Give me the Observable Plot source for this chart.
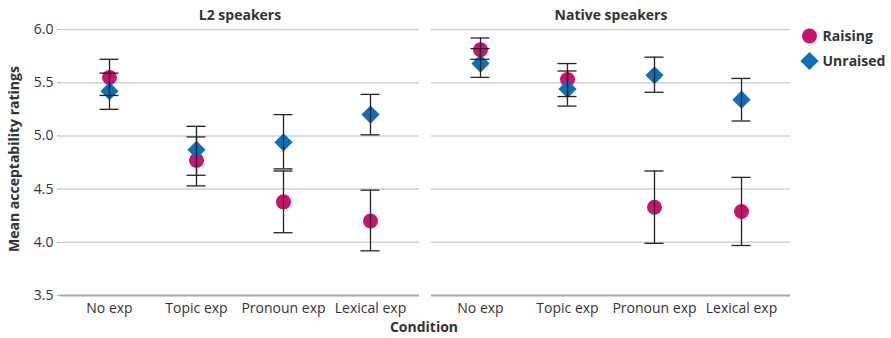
<!DOCTYPE html>
<html>
<head>
<meta charset="utf-8">
<script src="https://cdn.jsdelivr.net/npm/d3@7"></script>
<script src="https://cdn.jsdelivr.net/npm/@observablehq/plot@0.6"></script>
<style>
  html, body { margin: 0; padding: 0; background: #fff; }
  #chart { width: 891px; height: 338px; position: relative; }
</style>
</head>
<body>
<div id="chart"></div>
<script>
// ---- data ----
const groups = ["L2 speakers", "Native speakers"];
const conditions = ["No exp", "Topic exp", "Pronoun exp", "Lexical exp"];
const types = ["Raising", "Unraised"];
const yTicks = [3.5, 4.0, 4.5, 5.0, 5.5, 6.0];

const l2RaisingMean = [5.55, 4.77, 4.38, 4.20];
const l2RaisingLo   = [5.38, 4.53, 4.09, 3.92];
const l2RaisingHi   = [5.72, 4.99, 4.67, 4.49];

const l2UnraisedMean = [5.42, 4.87, 4.94, 5.20];
const l2UnraisedLo   = [5.25, 4.63, 4.69, 5.01];
const l2UnraisedHi   = [5.59, 5.09, 5.20, 5.39];

const nativeRaisingMean = [5.81, 5.53, 4.33, 4.29];
const nativeRaisingLo   = [5.72, 5.37, 3.99, 3.97];
const nativeRaisingHi   = [5.92, 5.68, 4.67, 4.61];

const nativeUnraisedMean = [5.68, 5.44, 5.57, 5.34];
const nativeUnraisedLo   = [5.55, 5.28, 5.41, 5.14];
const nativeUnraisedHi   = [5.82, 5.61, 5.74, 5.54];

const colors = ["#c8136f", "#106fb4"];

// ---- build table ----
const series = [
  [groups[0], types[0], l2RaisingMean, l2RaisingLo, l2RaisingHi],
  [groups[0], types[1], l2UnraisedMean, l2UnraisedLo, l2UnraisedHi],
  [groups[1], types[0], nativeRaisingMean, nativeRaisingLo, nativeRaisingHi],
  [groups[1], types[1], nativeUnraisedMean, nativeUnraisedLo, nativeUnraisedHi]
];
const data = [];
for (const [g, t, m, lo, hi] of series) {
  conditions.forEach((c, i) => data.push({group: g, type: t, condition: c, mean: m[i], lo: lo[i], hi: hi[i]}));
}
const raising = data.filter(d => d.type === types[0]);
const unraised = data.filter(d => d.type === types[1]);

const font = "'Open Sans', 'DejaVu Sans', sans-serif";
const barStyle = {stroke: "#222", strokeWidth: 1.3};

const chart = Plot.plot({
  width: 891,
  height: 338,
  marginLeft: 60,
  marginRight: 101,
  marginTop: 29,
  marginBottom: 43,
  style: {fontFamily: font, color: "#333", background: "#fff", overflow: "visible"},
  fx: {domain: groups, paddingInner: 0.033, paddingOuter: 0},
  x: {domain: conditions, type: "point", padding: 0.56},
  y: {domain: [3.5, 6.0]},
  color: {domain: types, range: colors},
  symbol: {domain: types, range: ["circle", "diamond2"]},
  marks: [
    Plot.gridY({ticks: yTicks.filter(d => d > 3.5), stroke: "#d2d2d2", strokeOpacity: 1, strokeWidth: 1.5}),
    Plot.ruleY([3.5], {stroke: "#a9a9a9", strokeWidth: 2}),
    Plot.axisY({ticks: yTicks, tickFormat: d3.format(".1f"), tickSize: 3, tickPadding: 4, label: null,
      stroke: "#aaa", fontSize: 14, fill: "#333"}),
    Plot.axisX({tickSize: 0, tickPadding: 8, label: null, fontSize: 14, fill: "#333"}),
    Plot.axisFx({anchor: "top", tickSize: 0, tickPadding: 10, label: null, fontSize: 14, fontWeight: "bold", fill: "#333"}),
    Plot.dot(raising, {fx: "group", x: "condition", y: "mean", fill: "type", symbol: "type", r: 7.5, stroke: "none"}),
    Plot.dot(unraised, {fx: "group", x: "condition", y: "mean", fill: "type", symbol: "type", r: 8.2, stroke: "none"}),
    Plot.ruleX(data, {fx: "group", x: "condition", y1: "lo", y2: "hi", ...barStyle}),
    Plot.ruleY(data, {fx: "group", x1: "condition", x2: "condition", y: "lo", insetLeft: -9.5, insetRight: -9.5, ...barStyle}),
    Plot.ruleY(data, {fx: "group", x1: "condition", x2: "condition", y: "hi", insetLeft: -9.5, insetRight: -9.5, ...barStyle})
  ]
});

document.getElementById("chart").appendChild(chart);

// ---- axis titles and legend ----
const svg = d3.select(chart);
svg.append("text")
  .attr("transform", "translate(19,159) rotate(-90)")
  .attr("text-anchor", "middle")
  .attr("font-family", font).attr("font-size", 14).attr("font-weight", "bold").attr("fill", "#333")
  .text("Mean acceptability ratings");
svg.append("text")
  .attr("x", 424).attr("y", 332)
  .attr("text-anchor", "middle")
  .attr("font-family", font).attr("font-size", 14).attr("font-weight", "bold").attr("fill", "#333")
  .text("Condition");

const colorScale = chart.scale("color");
const legendY = [36, 61];
types.forEach((t, i) => {
  const g = svg.append("g").attr("transform", `translate(809.5,${legendY[i]})`);
  const sym = i === 0 ? d3.symbolCircle : d3.symbolDiamond2;
  const size = i === 0 ? Math.PI * 7.5 * 7.5 : Math.PI * 8.2 * 8.2;
  g.append("path").attr("d", d3.symbol(sym, size)()).attr("fill", colorScale.range[i]);
  g.append("text").attr("x", 13).attr("dy", "0.35em").attr("text-anchor", "start")
    .attr("font-family", font).attr("font-size", 14).attr("font-weight", "bold").attr("fill", "#333")
    .text(t);
});
</script>
</body>
</html>
